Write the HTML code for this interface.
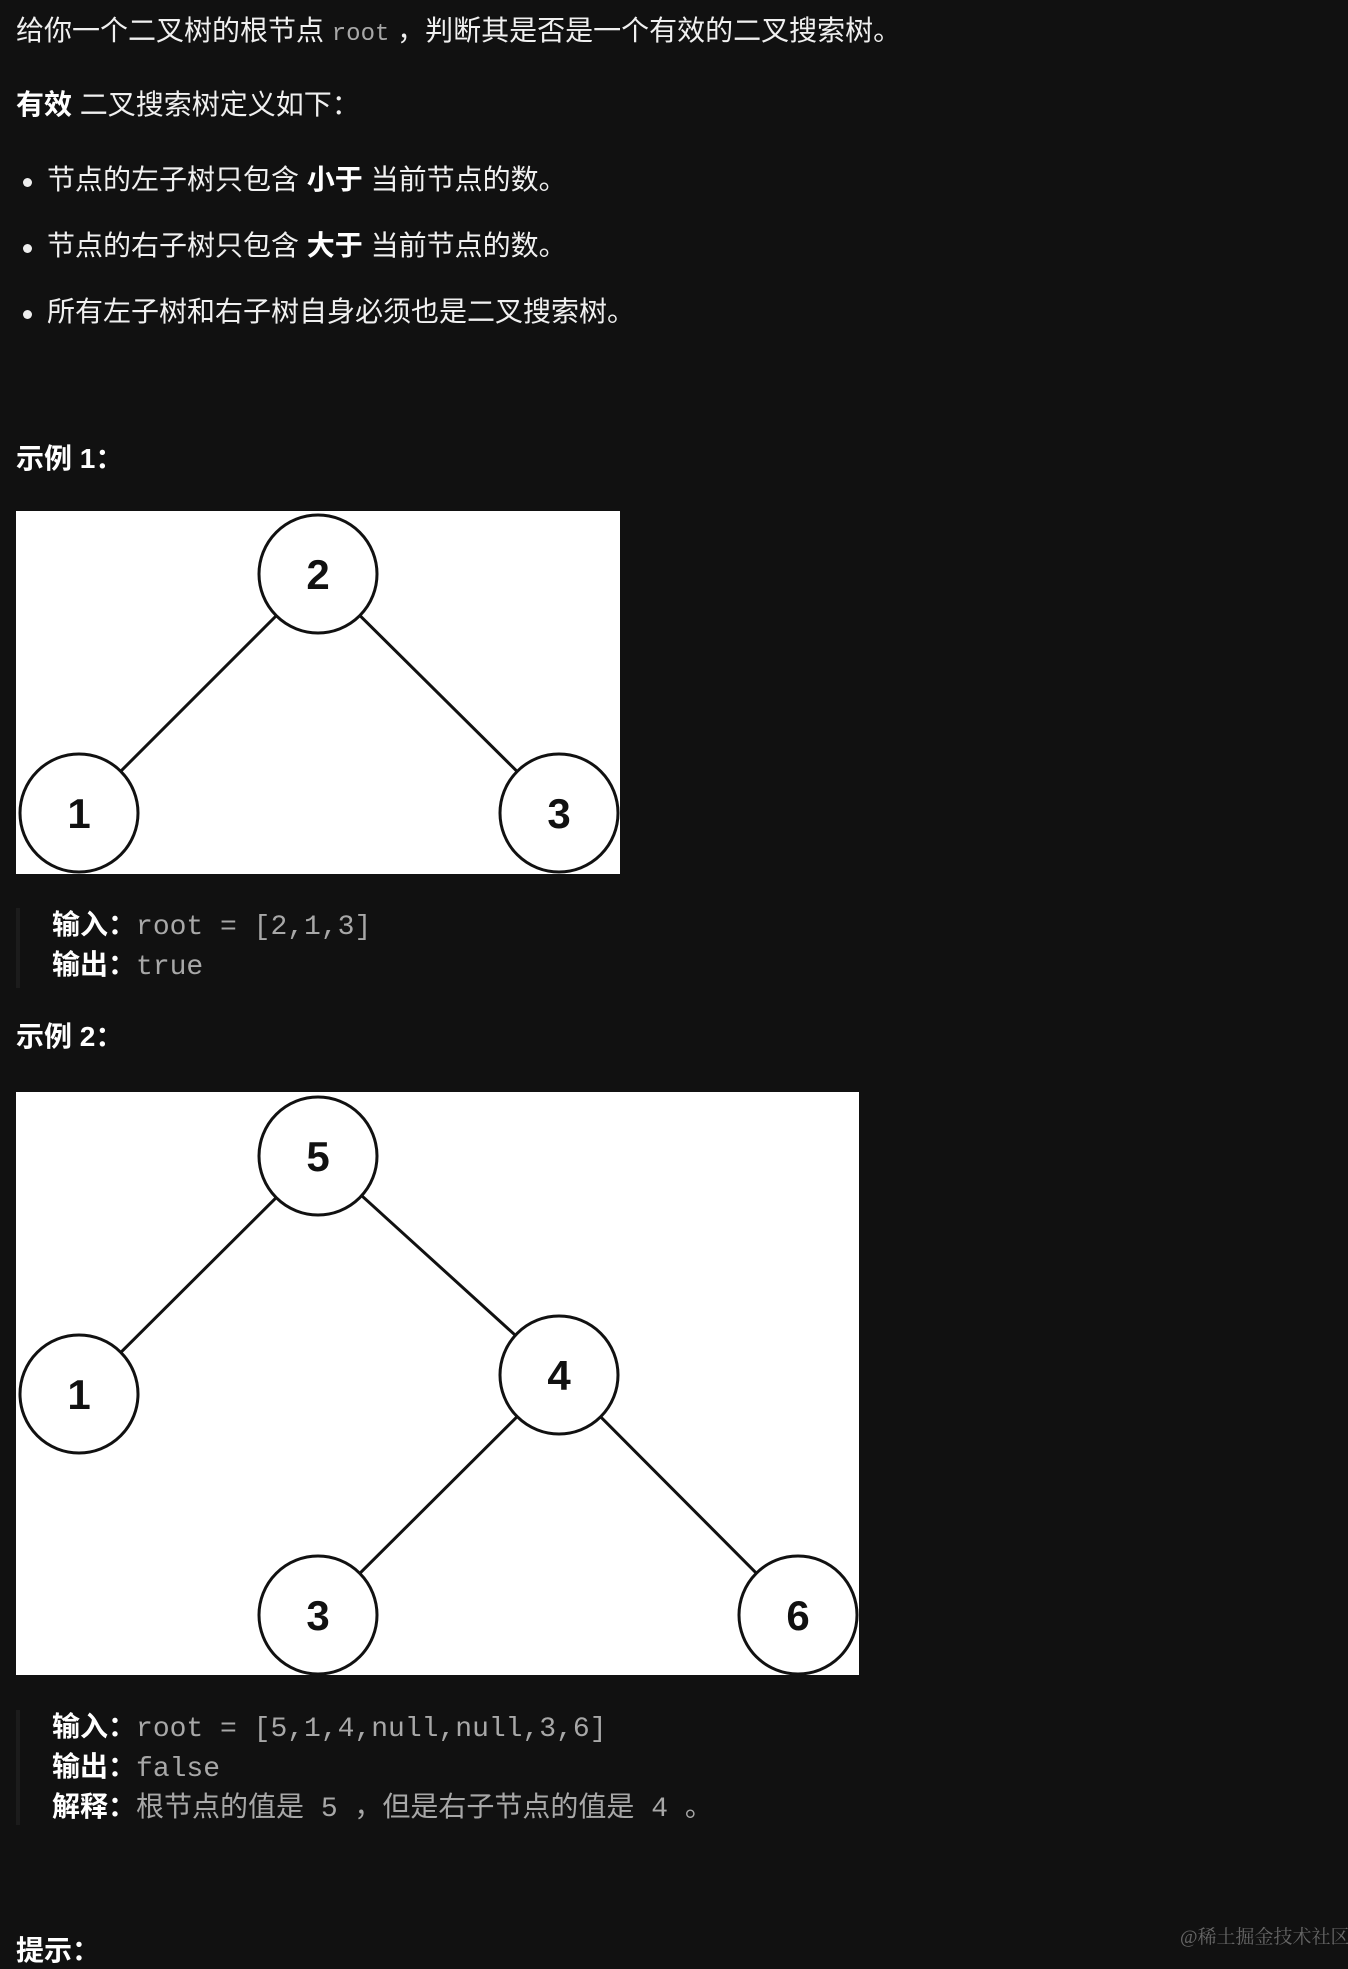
<!DOCTYPE html>
<html><head><meta charset="utf-8">
<style>
html,body{margin:0;padding:0;background:#111111;}
body{width:1348px;height:1956px;position:relative;overflow:hidden;color:#f0f0f0;
font-family:"Liberation Sans","Noto Sans CJK SC",sans-serif;font-size:28px;}
.t{position:absolute;white-space:nowrap;line-height:36px;}
b{font-weight:bold;color:#fff;}
code,.m{font-family:"Liberation Mono","Noto Sans CJK SC",monospace;color:#a8a8a8;}
.dot{position:absolute;width:9px;height:9px;border-radius:50%;background:#eee;}
.bq{position:absolute;left:16px;width:4px;background:#1c1c1c;}
svg{position:absolute;}
</style></head><body>
<div class="t" style="left:16px;top:13px;">给你一个二叉树的根节点 <code style="font-size:24px;">root</code> ，判断其是否是一个有效的二叉搜索树。</div>
<div class="t" style="left:16px;top:87px;"><b>有效</b> 二叉搜索树定义如下：</div>
<div class="dot" style="left:23px;top:178px;"></div>
<div class="t" style="left:47px;top:162px;">节点的左子树只包含 <b>小于</b> 当前节点的数。</div>
<div class="dot" style="left:23px;top:244px;"></div>
<div class="t" style="left:47px;top:228px;">节点的右子树只包含 <b>大于</b> 当前节点的数。</div>
<div class="dot" style="left:23px;top:310px;"></div>
<div class="t" style="left:47px;top:294px;">所有左子树和右子树自身必须也是二叉搜索树。</div>
<div class="t" style="left:16px;top:441px;"><b>示例 1：</b></div>

<svg style="left:16px;top:511px;" width="604" height="363" viewBox="0 0 604 363">
<rect width="604" height="363" fill="#fff"/>
<g stroke="#111" stroke-width="3" fill="#fff">
<line x1="302" y1="63" x2="63" y2="302"/><line x1="302" y1="63" x2="543" y2="302"/>
<circle cx="302" cy="63" r="59"/><circle cx="63" cy="302" r="59"/><circle cx="543" cy="302" r="59"/>
</g>
<g font-family="Liberation Sans,sans-serif" font-weight="bold" font-size="42" text-anchor="middle" fill="#111">
<text x="302" y="78">2</text><text x="63" y="317">1</text><text x="543" y="317">3</text></g>
</svg>

<div class="bq" style="top:908px;height:80px;"></div>
<div class="t" style="left:52px;top:907px;"><b>输入：</b><span class="m">root = [2,1,3]</span></div>
<div class="t" style="left:52px;top:947px;"><b>输出：</b><span class="m">true</span></div>
<div class="t" style="left:16px;top:1019px;"><b>示例 2：</b></div>

<svg style="left:16px;top:1092px;" width="843" height="583" viewBox="0 0 843 583">
<rect width="843" height="583" fill="#fff"/>
<g stroke="#111" stroke-width="3" fill="#fff">
<line x1="302" y1="64" x2="63" y2="302"/><line x1="302" y1="64" x2="543" y2="283"/>
<line x1="543" y1="283" x2="302" y2="523"/><line x1="543" y1="283" x2="782" y2="523"/>
<circle cx="302" cy="64" r="59"/><circle cx="63" cy="302" r="59"/><circle cx="543" cy="283" r="59"/>
<circle cx="302" cy="523" r="59"/><circle cx="782" cy="523" r="59"/>
</g>
<g font-family="Liberation Sans,sans-serif" font-weight="bold" font-size="42" text-anchor="middle" fill="#111">
<text x="302" y="79">5</text><text x="63" y="317">1</text><text x="543" y="298">4</text>
<text x="302" y="538">3</text><text x="782" y="538">6</text></g>
</svg>

<div class="bq" style="top:1710px;height:115px;"></div>
<div class="t" style="left:52px;top:1709px;"><b>输入：</b><span class="m">root = [5,1,4,null,null,3,6]</span></div>
<div class="t" style="left:52px;top:1749px;"><b>输出：</b><span class="m">false</span></div>
<div class="t" style="left:52px;top:1789px;"><b>解释：</b><span class="m">根节点的值是 5 ，但是右子节点的值是 4 。</span></div>
<div class="t" style="left:16px;top:1933px;"><b>提示：</b></div>
<div class="t" style="left:1180px;top:1926px;font-size:19px;line-height:24px;color:#666;font-family:'Liberation Serif','Noto Serif CJK SC',serif;">@稀土掘金技术社区</div>
</body></html>
